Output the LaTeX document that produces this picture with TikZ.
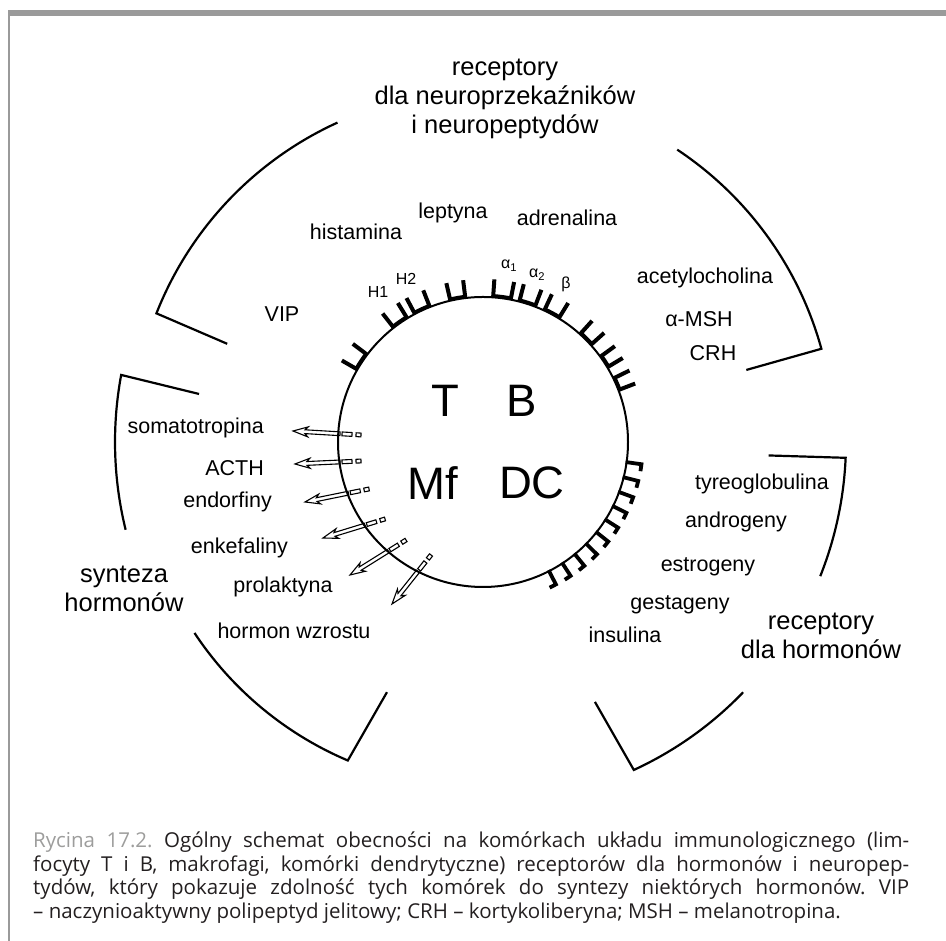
\documentclass[tikz,border=0pt]{standalone}
\usepackage{fontspec}
\setmainfont{Liberation Sans}
\newfontfamily\capfont{Open Sans}
\usepackage{tikz}
\usetikzlibrary{calc}
\definecolor{framegray}{HTML}{9A9A9A}
\definecolor{capgray}{HTML}{9D9D9C}
\definecolor{captext}{HTML}{231F20}
\hyphenpenalty=10000
\exhyphenpenalty=10000

% hollow arrow with a dashed tail, from #1 (inside the cell) to #2 (tip)
\newcommand{\hormarrow}[2]{%
	\path let \p1=($(#2)-(#1)$) in \pgfextra{%
		\pgfmathsetmacro{\arrlen}{veclen(\x1,\y1)}%
		\pgfmathsetmacro{\arrang}{atan2(\y1,\x1)}%
		\global\let\arrlen\arrlen \global\let\arrang\arrang};
	\begin{scope}[shift={(#1)}, rotate=\arrang]
		\draw[hollow] (0,-1.9) rectangle (5,1.9);
		\draw[hollow] (9,-1.9) rectangle (19,1.9);
		\draw[hollow] (21,-1.9) -- ({\arrlen-12},-1.9) -- ({\arrlen-15},-5) -- (\arrlen,0)
			-- ({\arrlen-15},5) -- ({\arrlen-12},1.9) -- (21,1.9) -- cycle;
	\end{scope}}

\begin{document}
\begin{tikzpicture}[x=1pt, y=1pt,
	lbl/.style={font=\fontsize{21.5}{26}\selectfont, inner sep=0pt},
	head/.style={font=\fontsize{25.5}{29}\selectfont, align=center, inner sep=0pt},
	big/.style={font=\fontsize{45.5}{50}\selectfont, inner sep=0pt},
	small/.style={font=\fontsize{16}{18}\selectfont, inner sep=0pt},
	hollow/.style={draw=black, line width=1.1pt, fill=white, line join=miter},
	bracket/.style={line width=2.2pt, line join=miter},
	recbar/.style={line width=4pt},
	recbase/.style={line width=3.5pt},
	hook/.style={line width=3.8pt, line join=miter}]
	\useasboundingbox (0,0) rectangle (946,941);

	% frame
	\fill[framegray] (8,925) rectangle (946,931);
	\fill[framegray] (8,0) rectangle (10,931);

	% secreted hormones
	\coordinate (s1) at (361,506); \coordinate (e1) at (293,510);
	\coordinate (s2) at (361,480); \coordinate (e2) at (295,477);
	\coordinate (s3) at (369,452); \coordinate (e3) at (305,439);
	\coordinate (s4) at (385,422); \coordinate (e4) at (323,403);
	\coordinate (s5) at (406,401); \coordinate (e5) at (350,366);
	\coordinate (s6) at (431,386); \coordinate (e6) at (392,337);
	\hormarrow{s1}{e1}
	\hormarrow{s2}{e2}
	\hormarrow{s3}{e3}
	\hormarrow{s4}{e4}
	\hormarrow{s5}{e5}
	\hormarrow{s6}{e6}

	% the cell
	\node[shape=circle, draw=black, line width=2pt, minimum size=290pt, inner sep=0pt] (cell) at (483,499) {};
	\node[big] (t)  at (445,540) {T};
	\node[big] (b)  at (522,540) {B};
	\node[big] (mf) at (433,458) {Mf};
	\node[big] (dc) at (532,458) {DC};

	% receptors for neurotransmitters
	\foreach \a/\b in {150/143, 128/121.5, 118/111.5, 103/97, 86/79, 75.5/69, 65/58.5, 48/42, 36/31, 26/21} {
		\draw[recbase] ($(cell)+(\b:146.5)$) arc[start angle=\b, end angle=\a, radius=146.5];
		\draw[recbar] ($(cell)+(\a:145)$) -- ($(cell)+(\a:163)$);
		\draw[recbar] ($(cell)+(\b:145)$) -- ($(cell)+(\b:163)$);
	}
	% receptors for hormones
	\foreach \h in {-8,-14.1,-20.2,-26.3,-32.4,-38.5,-44.6,-50.7,-56.8,-62.9} {
		\draw[hook] ($(cell)+(\h:144)$) -- ($(cell)+(\h:160)$) -- ++({\h-90}:7);
	}

	% brackets
	\draw[bracket] ($(cell)+(114.5:351)$) arc[start angle=114.5, end angle=158.5, radius=351] -- ($(cell)+(159:274)$);
	\draw[bracket] ($(cell)+(56.4:351)$) arc[start angle=56.4, end angle=15.4, radius=351] -- ($(cell)+(15.3:273)$);
	\draw[bracket] ($(cell)+(-21.7:363)$) arc[start angle=-21.7, end angle=-2.5, radius=363] -- ($(cell)+(-2.7:286)$);
	\draw[bracket] ($(cell)+(-43.9:361)$) arc[start angle=-43.9, end angle=-65.3, radius=361] -- ($(cell)+(-66.7:283)$);
	\draw[bracket] ($(cell)+(213.5:346)$) arc[start angle=213.5, end angle=247, radius=346] -- ($(cell)+(249:268)$);
	\draw[bracket] ($(cell)+(193.8:368)$) arc[start angle=193.8, end angle=169.5, radius=368] -- ($(cell)+(170.4:288)$);

	% headings
	\node[head] (neuro) at (505,842) {receptory\\dla neuroprzekaźników\\i neuropeptydów};
	\node[head] (synt)  at (124,352) {synteza\\hormonów};
	\node[head] (rech)  at (821,305) {receptory\\dla hormonów};

	% labels
	\node[lbl] (hist)  at (356,709) {histamina};
	\node[lbl] (lept)  at (453,728) {leptyna};
	\node[lbl] (adren) at (567,723) {adrenalina};
	\node[lbl] (acet)  at (705,663) {acetylocholina};
	\node[lbl] (msh)   at (699,622) {α-MSH};
	\node[lbl] (crh)   at (713,588) {CRH};
	\node[lbl] (vip)   at (282,627) {VIP};
	\node[small] (h1)   at (378,649) {H1};
	\node[small] (h2)   at (406,662) {H2};
	\node[small] (a1)   at (509,675) {α\textsubscript{1}};
	\node[small] (a2)   at (537,666) {α\textsubscript{2}};
	\node[small] (beta) at (566,657) {β};

	\node[lbl, anchor=east] (soma) at (264,513) {somatotropina};
	\node[lbl, anchor=east] (acth) at (264,473) {ACTH};
	\node[lbl, anchor=east] (endo) at (272,439) {endorfiny};
	\node[lbl, anchor=east] (enke) at (288,393) {enkefaliny};
	\node[lbl] (prol)   at (283,354) {prolaktyna};
	\node[lbl] (wzrost) at (294,310) {hormon wzrostu};

	\node[lbl] (tyreo) at (762,457) {tyreoglobulina};
	\node[lbl] (andro) at (736,419) {androgeny};
	\node[lbl] (estro) at (708,374) {estrogeny};
	\node[lbl] (gesta) at (680,336) {gestageny};
	\node[lbl] (insu)  at (625,306) {insulina};

	% caption
	\node[anchor=north west, inner sep=0pt, text width=876pt, align=justify, text=captext,
		font=\capfont\fontsize{20.5}{23.5}\selectfont\frenchspacing] (cap) at (33,109)
		{{\color{capgray}Rycina 17.2.} Ogólny schemat obecności na komórkach układu immunologicznego (lim-\linebreak focyty T i B, makrofagi, komórki dendrytyczne) receptorów dla hormonów i neuropep-\linebreak tydów, który pokazuje zdolność tych komórek do syntezy niektórych hormonów. VIP\linebreak – naczynioaktywny polipeptyd jelitowy; CRH – kortykoliberyna; MSH – melanotropina.};
\end{tikzpicture}
\end{document}
